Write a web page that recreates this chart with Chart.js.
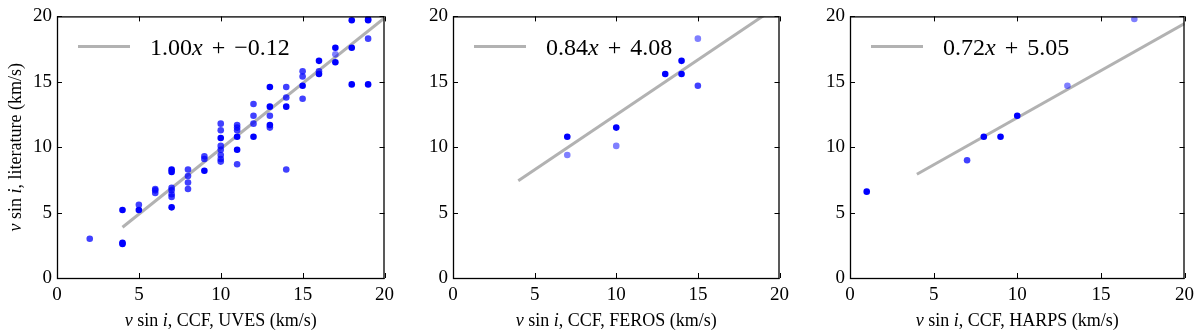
<!DOCTYPE html>
<html>
<head>
<meta charset="utf-8">
<script src="https://cdn.jsdelivr.net/npm/chart.js@4.4.1/dist/chart.umd.min.js"></script>
<style>
  html, body { margin: 0; padding: 0; background: #fff; }
  #wrap { position: relative; width: 1200px; height: 332px; }
  canvas { position: absolute; top: 0; }
</style>
</head>
<body>
<div id="wrap">
  <canvas id="c1" width="400" height="332" style="left:0px"></canvas>
  <canvas id="c2" width="395" height="332" style="left:400px"></canvas>
  <canvas id="c3" width="405" height="332" style="left:795px"></canvas>
</div>
<script>
// --- data ---
const instruments = ["UVES", "FEROS", "HARPS"];
const tickValues = [0, 5, 10, 15, 20];
const tickLabels = ["0", "5", "10", "15", "20"];

const uvesX = [2, 4, 4, 4, 5, 5, 6, 6, 6, 7, 7, 7, 7, 7, 7, 7, 8, 8, 8, 8, 9, 9, 9,
  10, 10, 10, 10, 10, 10, 10, 10, 11, 11, 11, 11, 11, 11, 12, 12, 12, 12,
  13, 13, 13, 13, 13, 14, 14, 14, 14, 15, 15, 15, 15, 16, 16, 16, 17, 17, 17,
  18, 18, 18, 19, 19, 19, 19];
const uvesY = [3.0, 5.2, 2.6, 2.7, 5.6, 5.2, 6.8, 6.7, 6.5, 8.3, 8.1, 6.9, 6.7, 6.4, 6.2, 5.4,
  8.3, 7.8, 7.3, 6.8, 9.3, 9.1, 8.2, 11.8, 11.3, 10.7, 10.1, 9.8, 9.4, 9.1, 8.9,
  11.7, 11.5, 11.3, 10.8, 9.8, 8.7, 13.3, 12.4, 11.8, 10.8,
  14.6, 13.1, 12.4, 11.7, 11.5, 14.6, 13.8, 13.1, 8.3, 15.8, 15.4, 14.7, 13.7,
  16.6, 15.8, 15.6, 17.6, 17.1, 16.5, 19.7, 17.6, 14.8, 19.8, 19.7, 18.3, 14.8];
const uvesQ = [0.75, 1, 1, 1, 0.75, 1, 0.75, 0.75, 0.75, 1, 1, 0.75, 0.75, 0.75, 0.75, 1,
  0.75, 0.75, 0.75, 0.75, 0.75, 0.75, 1, 0.75, 0.75, 1, 0.75, 0.75, 0.75, 0.75, 0.75,
  0.75, 0.75, 0.75, 1, 1, 0.75, 0.75, 0.75, 0.75, 1,
  1, 1, 0.75, 1, 0.75, 0.75, 0.75, 1, 0.75, 0.75, 0.75, 1, 0.75,
  1, 0.75, 1, 1, 0.5, 1, 1, 1, 1, 1, 1, 0.75, 1];

const ferosX = [7, 7, 10, 10, 13, 14, 14, 15, 15];
const ferosY = [10.8, 9.4, 11.5, 10.1, 15.6, 16.6, 15.6, 18.3, 14.7];
const ferosQ = [1, 0.5, 1, 0.5, 1, 1, 1, 0.5, 0.75];

const harpsX = [1, 7, 8, 9, 10, 13, 17];
const harpsY = [6.6, 9.0, 10.8, 10.8, 12.4, 14.7, 19.8];
const harpsQ = [1, 0.75, 1, 1, 1, 0.5, 0.5];

const fitSlope = [1.00, 0.84, 0.72];
const fitIntercept = [-0.12, 4.08, 5.05];
const fitFrom = 4, fitTo = 20;

// --- drawing helpers ---
const SERIF = '"Liberation Serif", "DejaVu Serif", serif';
const GREY = "rgb(178,178,178)";
function fnt(size, italic) {
  return (italic ? "italic " : "") + size + "px " + SERIF;
}
function drawRich(ctx, parts, x, y, size, align) {
  let w = 0;
  parts.forEach(p => {
    if (typeof p == "number") { w += p; return; }
    ctx.font = fnt(size, p[1]);
    w += ctx.measureText(p[0]).width;
  });
  let cx = align == "center" ? x - w / 2 : x;
  ctx.textAlign = "left";
  ctx.textBaseline = "middle";
  ctx.fillStyle = "#000";
  parts.forEach(p => {
    if (typeof p == "number") { cx += p; return; }
    ctx.font = fnt(size, p[1]);
    ctx.fillText(p[0], cx, y);
    cx += ctx.measureText(p[0]).width;
  });
}
function fmtNum(v) {
  return (v < 0 ? "\u2212" : "") + Math.abs(v).toFixed(2);
}

const framePlugin = {
  id: "frame",
  afterDraw(chart, args, opts) {
    const ctx = chart.ctx, a = chart.chartArea;
    const xs = chart.scales.x, ys = chart.scales.y;
    ctx.save();
    ctx.strokeStyle = "#000";
    ctx.lineWidth = 1.3;
    ctx.strokeRect(a.left + 0.5, a.top + 0.5, a.right - a.left - 1, a.bottom - a.top);
    const tl = 5;
    ctx.lineWidth = 1;
    ctx.beginPath();
    tickValues.forEach(v => {
      const px = Math.round(xs.getPixelForValue(v)) + 0.5;
      ctx.moveTo(px, a.bottom); ctx.lineTo(px, a.bottom - tl);
      ctx.moveTo(px, a.top); ctx.lineTo(px, a.top + tl);
      const py = Math.round(ys.getPixelForValue(v)) + 0.5;
      ctx.moveTo(a.left, py); ctx.lineTo(a.left + tl, py);
      ctx.moveTo(a.right, py); ctx.lineTo(a.right - tl, py);
    });
    ctx.stroke();

    // legend: fit line sample + equation
    const ly = a.top + 30;
    ctx.strokeStyle = GREY;
    ctx.lineWidth = 3;
    ctx.beginPath();
    ctx.moveTo(a.left + 21, ly); ctx.lineTo(a.left + 73, ly);
    ctx.stroke();
    const k = opts.idx;
    drawRich(ctx, [[fitSlope[k].toFixed(2), false], ["x", true], 3, [" + ", false], 3,
      [fmtNum(fitIntercept[k]), false]], a.left + 93, ly + 2, 24, "left");

    // axis titles
    drawRich(ctx, [["v", true], [" sin ", false], ["i", true],
      [", CCF, " + instruments[k] + " (km/s)", false]], (a.left + a.right) / 2, 321, 18, "center");
    if (k == 0) {
      ctx.translate(16, (a.top + a.bottom) / 2);
      ctx.rotate(-Math.PI / 2);
      drawRich(ctx, [["v", true], [" sin ", false], ["i", true],
        [", literature (km/s)", false]], 0, 0, 18, "center");
    }
    ctx.restore();
  }
};

function makeChart(id, k, xs, ys, qs, yWidth, rightPad) {
  const pts = xs.map((x, i) => ({ x: x, y: ys[i] }));
  const fit = [fitFrom, fitTo].map(x => ({ x: x, y: fitSlope[k] * x + fitIntercept[k] }));
  const tickFont = { family: SERIF, size: 19 };
  new Chart(document.getElementById(id), {
    type: "scatter",
    data: {
      datasets: [
        {
          type: "line",
          data: fit,
          borderColor: GREY,
          borderWidth: 3,
          pointRadius: 0,
          showLine: true,
          clip: 0,
          order: 1,
        },
        {
          data: pts,
          pointRadius: 3.3,
          borderWidth: 0,
          pointBackgroundColor: qs.map(q => "rgba(0,0,255," + q + ")"),
          order: 0,
        },
      ],
    },
    options: {
      responsive: false,
      animation: false,
      events: [],
      layout: { padding: { top: 13, right: rightPad, left: 0, bottom: 0 } },
      scales: {
        x: {
          type: "linear", min: 0, max: 20,
          afterBuildTicks: s => { s.ticks = tickValues.map(v => ({ value: v })); },
          ticks: {
            font: tickFont, color: "#000", padding: 6, maxRotation: 0, autoSkip: false,
            callback: (v, i) => tickLabels[i],
          },
          grid: { display: false, drawTicks: false },
          border: { display: false },
          afterFit: s => { s.height = 54; },
        },
        y: {
          type: "linear", min: 0, max: 20,
          afterBuildTicks: s => { s.ticks = tickValues.map(v => ({ value: v })); },
          ticks: {
            font: tickFont, color: "#000", padding: 5, autoSkip: false,
            callback: (v, i) => tickLabels[i],
          },
          grid: { display: false, drawTicks: false },
          border: { display: false },
          afterFit: s => { s.width = yWidth; },
        },
      },
      plugins: {
        legend: { display: false },
        tooltip: { enabled: false },
        frame: { idx: k },
      },
    },
    plugins: [framePlugin],
  });
}

makeChart("c1", 0, uvesX, uvesY, uvesQ, 57, 8);
makeChart("c2", 1, ferosX, ferosY, ferosQ, 53, 7);
makeChart("c3", 2, harpsX, harpsY, harpsQ, 55, 15);
</script>
</body>
</html>
